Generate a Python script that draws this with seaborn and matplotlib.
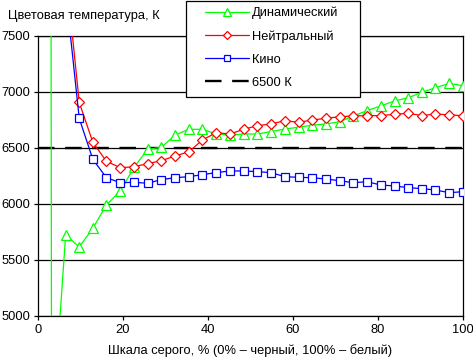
import matplotlib
matplotlib.use("Agg")
import matplotlib.pyplot as plt
import matplotlib.patches as mpatches
import seaborn as sns
import pandas as pd

# ---- data ----
gray_pct = [0, 3.2, 6.5, 9.7, 12.9, 16.1, 19.4, 22.6, 25.8, 29.0, 32.3, 35.5,
            38.7, 41.9, 45.2, 48.4, 51.6, 54.8, 58.1, 61.3, 64.5, 67.7, 71.0,
            74.2, 77.4, 80.6, 83.9, 87.1, 90.3, 93.5, 96.8, 100]
dynamic = [100000, 3900, 5723, 5616, 5783, 5991, 6119, 6327, 6488, 6506, 6616, 6667,
           6667, 6625, 6616, 6625, 6625, 6646, 6670, 6685, 6704, 6714, 6735,
           6786, 6833, 6875, 6920, 6949, 6997, 7038, 7077, 7056]
neutral = [12000, 9500, 8100, 6908, 6551, 6381, 6324, 6333, 6360, 6387, 6429, 6467,
           6571, 6637, 6625, 6667, 6699, 6714, 6744, 6729, 6750, 6765, 6779,
           6786, 6789, 6789, 6801, 6810, 6789, 6804, 6795, 6789]
cinema = [12000, 9500, 7910, 6765, 6399, 6235, 6190, 6194, 6185, 6218, 6235, 6244,
          6262, 6280, 6295, 6295, 6289, 6280, 6244, 6238, 6235, 6223, 6208,
          6190, 6199, 6170, 6161, 6146, 6137, 6125, 6101, 6110]
series_names = ["Динамический", "Нейтральный", "Кино"]
ref_label = "6500 К"
ref_value = 6500
x_ticks = [0, 20, 40, 60, 80, 100]
y_ticks = [5000, 5500, 6000, 6500, 7000, 7500]
title_text = "Цветовая температура, К"
xlabel_text = "Шкала серого, % (0% – черный, 100% – белый)"

df = pd.DataFrame({"x": gray_pct, series_names[0]: dynamic,
                   series_names[1]: neutral, series_names[2]: cinema})

sns.set_theme(style="white")
plt.rcParams["font.family"] = ["Liberation Sans", "DejaVu Sans"]
FS = 9.3

W, H = 473, 359
fig = plt.figure(figsize=(W / 100, H / 100), dpi=100)
ax = fig.add_axes([38 / W, 1 - 316 / H, (463 - 38) / W, (316 - 36) / H])
ax.set_facecolor("white")

styles = [("#00ff00", "^", 7.0), ("#ff0000", "D", 5.0), ("#0000ff", "s", 6.2)]
for name, (col, mk, ms) in zip(series_names, styles):
    sns.lineplot(data=df, x="x", y=name, ax=ax, color=col, marker=mk,
                 markersize=ms, markerfacecolor="white", markeredgecolor=col,
                 markeredgewidth=0.9, linewidth=0.9, label=name, zorder=3)

for yv in y_ticks:
    ax.axhline(yv, color="black", linewidth=0.9, zorder=1)
ax.axhline(ref_value, color="black", linewidth=1.7, linestyle=(0, (7, 4.5)),
           label=ref_label, zorder=2)

ax.set_xlim(0, 100)
ax.set_ylim(5000, 7500)
ax.set_xticks(x_ticks)
ax.set_yticks(y_ticks)
ax.set_xlabel("")
ax.set_ylabel("")
for s in ax.spines.values():
    s.set_color("black")
    s.set_linewidth(0.9)
ax.tick_params(axis="both", which="major", direction="out", length=3,
               width=0.9, color="black", labelsize=FS, labelcolor="black",
               pad=2.5, left=True, bottom=True)

if ax.get_legend():
    ax.get_legend().remove()
handles, labels = ax.get_legend_handles_labels()

fig.text(8 / W, 1 - 16 / H, title_text, fontsize=FS, ha="left", va="center",
         color="black")
fig.text(250.5 / W, 1 - 351 / H, xlabel_text, fontsize=FS, ha="center",
         va="center", color="black")

# legend frame
rect = mpatches.Rectangle((185.5 / W, 1 - 97 / H), (359.5 - 185.5) / W,
                          (97 - 1) / H, transform=fig.transFigure,
                          facecolor="white", edgecolor="black", linewidth=0.9,
                          zorder=5)
fig.patches.append(rect)
leg = fig.legend(handles, labels, loc="center left",
                 bbox_to_anchor=(205 / W, 1 - 48 / H),
                 bbox_transform=fig.transFigure, frameon=False,
                 fontsize=FS, handlelength=3.4, handletextpad=0.25,
                 labelspacing=0.85, borderpad=0, borderaxespad=0,
                 markerscale=0.8)
leg.set_zorder(6)
for t in leg.get_texts():
    t.set_color("black")

fig.savefig("out.png", dpi=100)
